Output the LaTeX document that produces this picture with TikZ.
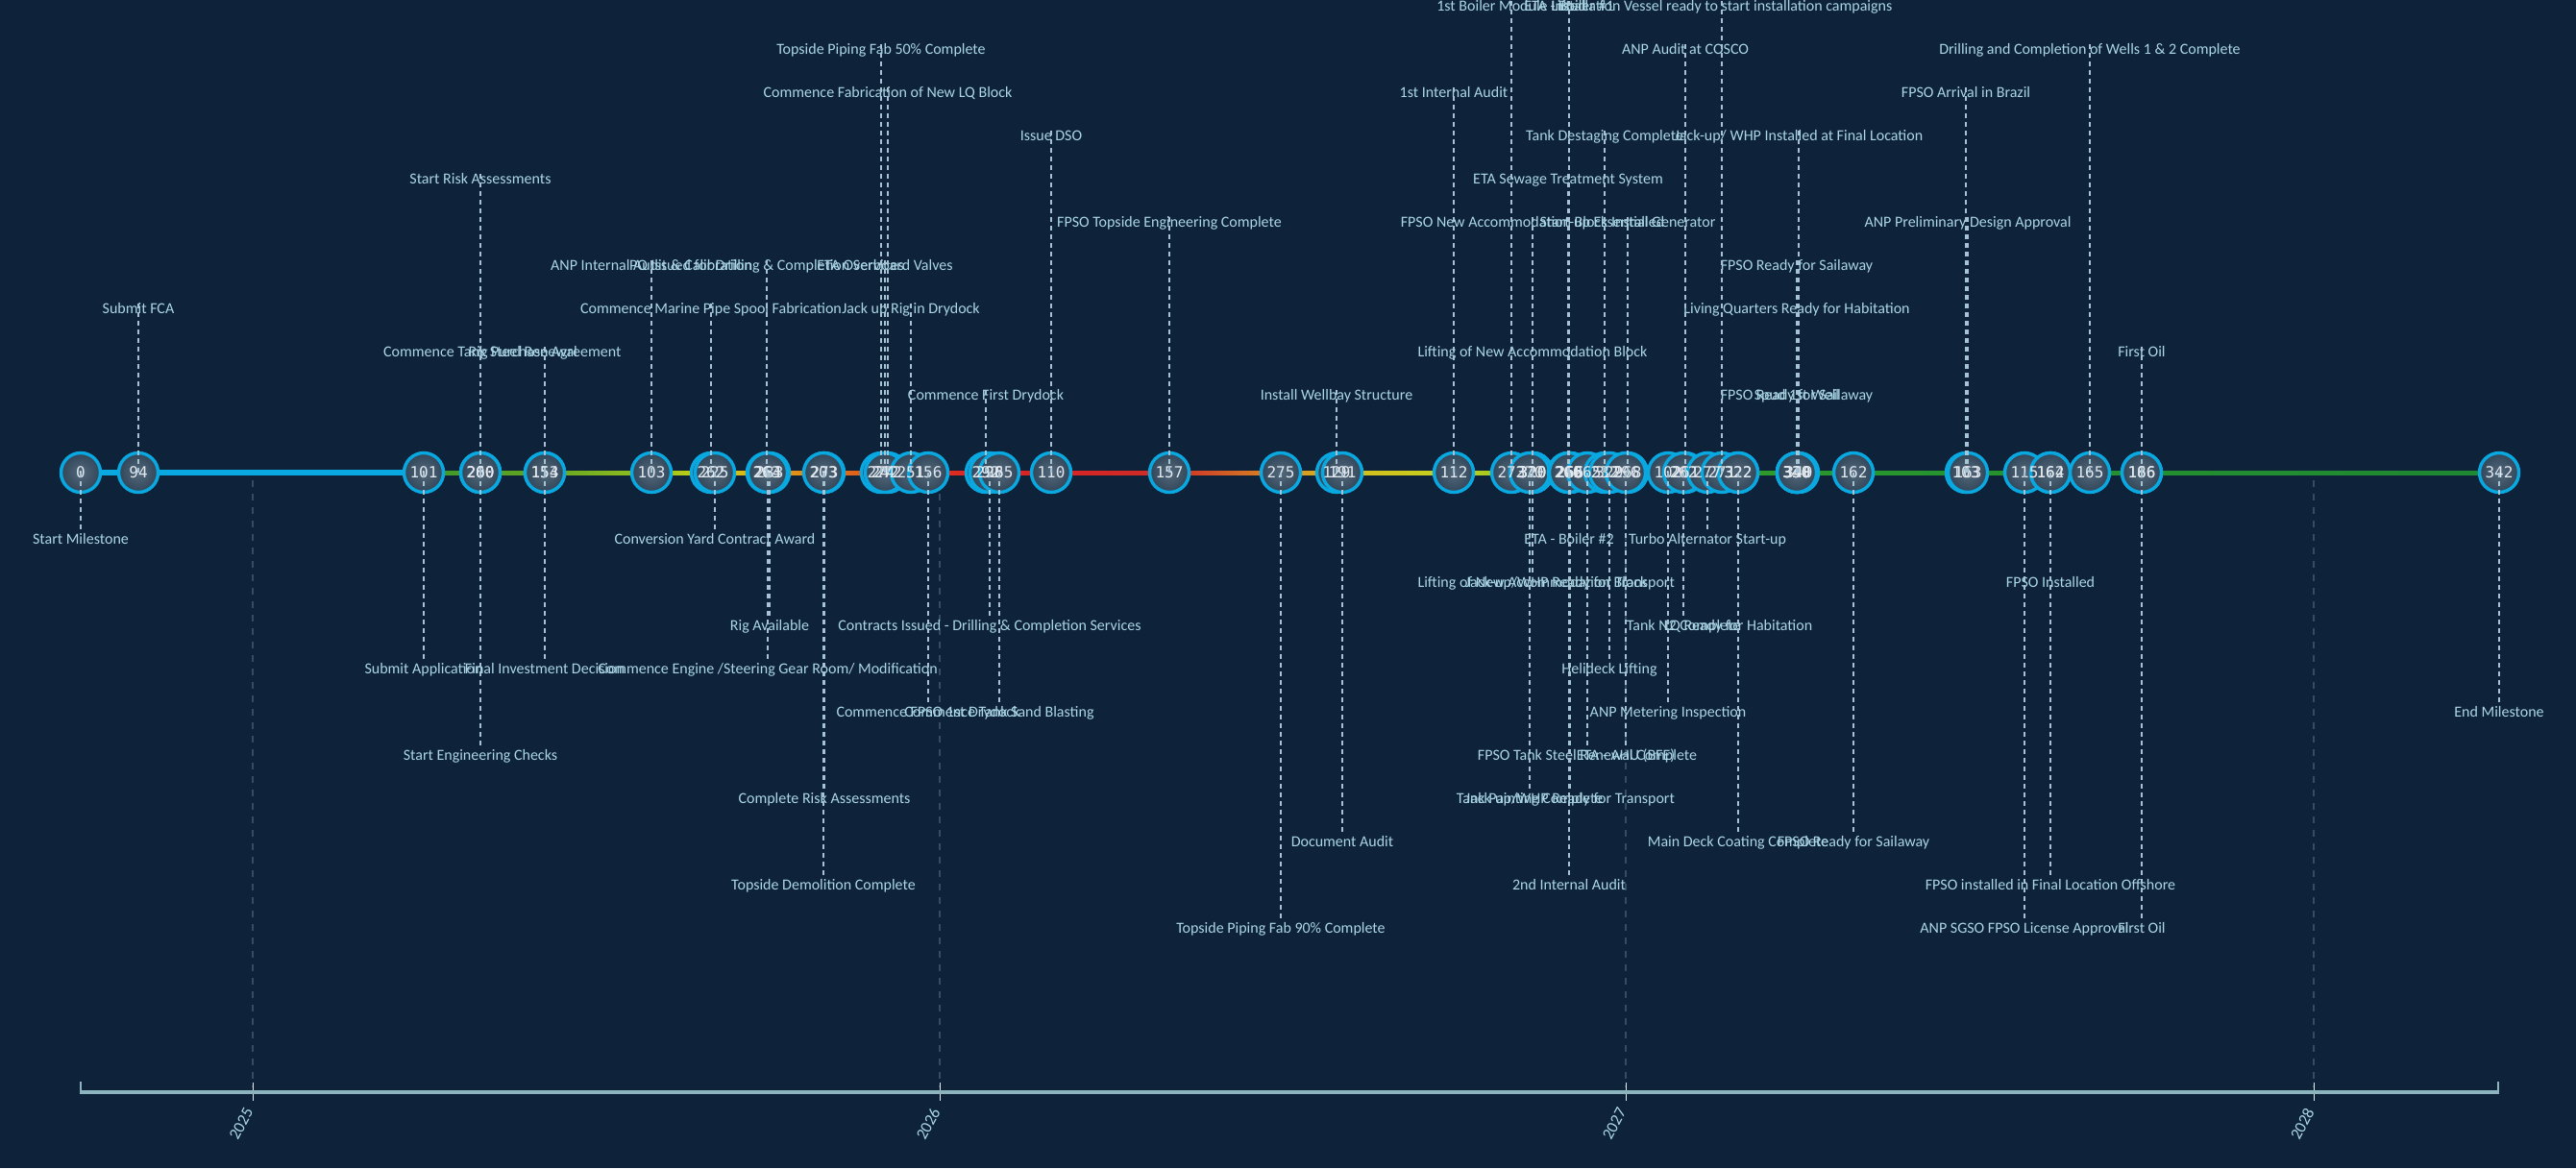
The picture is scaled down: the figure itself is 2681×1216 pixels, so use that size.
\documentclass[tikz,border=0pt]{standalone}
\usepackage{fontspec}
\setmainfont{Carlito}
\newfontfamily\numfont{DejaVu Sans Mono}
\definecolor{bgc}{RGB}{14,34,58}
\definecolor{lblc}{RGB}{170,214,228}
\definecolor{connc}{RGB}{165,195,210}
\definecolor{gridc}{RGB}{52,76,100}
\definecolor{axisc}{RGB}{140,180,190}
\definecolor{ringc}{RGB}{10,168,224}
\definecolor{nodein}{RGB}{84,104,124}
\definecolor{nodeout}{RGB}{50,70,90}
\definecolor{numc}{RGB}{225,232,238}
\definecolor{s1}{RGB}{60,150,40}
\definecolor{s2}{RGB}{100,165,35}
\definecolor{s3}{RGB}{150,190,30}
\definecolor{s4}{RGB}{205,210,20}
\definecolor{s5}{RGB}{225,165,20}
\definecolor{s6}{RGB}{225,120,25}
\definecolor{s7}{RGB}{220,70,30}
\definecolor{s8}{RGB}{220,40,35}
\definecolor{s9}{RGB}{215,35,35}
\definecolor{s10}{RGB}{205,45,40}
\definecolor{s11}{RGB}{215,140,35}
\definecolor{s12}{RGB}{215,185,30}
\definecolor{s13}{RGB}{195,210,30}
\definecolor{s14}{RGB}{130,185,35}
\definecolor{s15}{RGB}{60,160,40}
\definecolor{s16}{RGB}{40,150,45}
\definecolor{s17}{RGB}{30,135,50}
\pgfdeclarelayer{bglayer}
\pgfdeclarelayer{canvaslayer}
\pgfsetlayers{canvaslayer,bglayer,main}
\def\evlist{%
84/0/-1/{Start Milestone},
144/94/3/{Submit FCA},
441/101/-4/{Submit Application},
500/260/6/{Start Risk Assessments},
500/200/-6/{Start Engineering Checks},
500/260/2/{Commence Tank Steel Renewal},
567/154/2/{Rig Purchase Agreement},
567/153/-4/{Final Investment Decision},
678/103/4/{ANP Internal Audit \& Calibration},
740/262/3/{Commence Marine Pipe Spool Fabrication},
744/225/-1/{Conversion Yard Contract Award},
798/263/4/{PO Issued for Drilling \& Completion Services},
801/283/-3/{Rig Available},
799/264/-4/{Commence Engine /Steering Gear Room/ Modification},
858/273/-7/{Complete Risk Assessments},
857/203/-9/{Topside Demolition Complete},
917/274/9/{Topside Piping Fab 50\% Complete},
924/272/8/{Commence Fabrication of New LQ Block},
921/242/4/{ETA Overboard Valves},
948/251/3/{Jack up Rig in Drydock},
966/156/-5/{Commence FPSO 1st Drydock},
1026/292/1/{Commence First Drydock},
1030/298/-3/{Contracts Issued - Drilling \& Completion Services},
1040/265/-5/{Commence Tank Sand Blasting},
1094/110/7/{Issue DSO},
1217/157/5/{FPSO Topside Engineering Complete},
1333/275/-10/{Topside Piping Fab 90\% Complete},
1391/129/1/{Install Wellbay Structure},
1397/191/-8/{Document Audit},
1513/112/8/{1st Internal Audit},
1573/273/10/{1st Boiler Module Lifted},
1595/320/5/{FPSO New Accommodation Block Installed},
1595/320/2/{Lifting of New Accommodation Block},
1595/320/-2/{Lifting of New Accommodation Block},
1592/270/-7/{Tank Painting Complete},
1633/266/10/{ETA - Boiler \#1},
1632/266/6/{ETA Sewage Treatment System},
1633/265/-1/{ETA - Boiler \#2},
1634/265/-2/{Jack-up/WHP Ready for Transport},
1634/266/-7/{Jack-up/WHP Ready for Transport},
1633/266/-9/{2nd Internal Audit},
1652/265/-6/{FPSO Tank Steel Renewal Complete},
1670/232/7/{Tank Destaging Complete},
1675/329/-4/{Helideck Lifting},
1694/268/5/{Start-up Essential Generator},
1692/296/-6/{ETA - AHU (BFE)},
1736/102/-5/{ANP Metering Inspection},
1754/261/9/{ANP Audit at COSCO},
1752/262/-3/{Tank N2 Complete},
1777/277/-1/{Turbo Alternator Start-up},
1792/271/10/{Installation Vessel ready to start installation campaigns},
1809/322/-3/{LQ Ready for Habitation},
1809/322/-8/{Main Deck Coating Complete},
1872/340/7/{Jack-up/ WHP Installed at Final Location},
1870/330/4/{FPSO Ready for Sailaway},
1870/340/3/{Living Quarters Ready for Habitation},
1870/330/1/{FPSO Ready for Sailaway},
1870/340/1/{Spud 1st Well},
1929/162/-8/{FPSO Ready for Sailaway},
2046/103/8/{FPSO Arrival in Brazil},
2048/163/5/{ANP Preliminary Design Approval},
2107/115/-10/{ANP SGSO FPSO License Approval},
2134/164/-9/{FPSO installed in Final Location Offshore},
2134/162/-2/{FPSO Installed},
2175/165/9/{Drilling and Completion of Wells 1 \& 2 Complete},
2229/166/2/{First Oil},
2229/186/-10/{First Oil},
2601/342/-5/{End Milestone}%
}
\begin{document}
\begin{tikzpicture}[x=1pt,y=-1pt,
  mnode/.style={circle, minimum size=41pt, inner sep=0pt, draw=ringc, line width=3.4pt,
    inner color=nodein, outer color=nodeout},
  numlbl/.style={text=numc, inner sep=0pt, font=\numfont\fontsize{16}{16}\selectfont},
  lbl/.style={text=lblc, font=\fontsize{16}{19}\selectfont, inner sep=0pt,
    text height=11pt, text depth=3pt, anchor=center},
  conn/.style={draw=connc, line width=1.6pt, dash pattern=on 5pt off 4pt},
  gridline/.style={draw=gridc, line width=1.4pt, dash pattern=on 7pt off 7pt},
  yearlbl/.style={text=lblc, font=\fontsize{17}{19}\selectfont, rotate=62, inner sep=0pt}]
\useasboundingbox (0,0) rectangle (2681,1216);
\begin{pgfonlayer}{canvaslayer}
\fill[bgc] (0,0) rectangle (2681,1216);
\end{pgfonlayer}
% circles
\foreach \ex/\en/\er/\et [count=\i] in \evlist {
  \node[mnode] (c\i) at (\ex,492) {};
}
% numbers on top of all circles
\foreach \ex/\en/\er/\et [count=\i] in \evlist {
  \node[numlbl] (n\i) at (c\i.center) {\en};
}
% background layer: grid, axis and main line
\begin{pgfonlayer}{bglayer}
\foreach \gx/\yr in {263/2025, 978/2026, 1692/2027, 2408/2028} {
  \draw[gridline] (\gx,500) -- (\gx,1132);
  \draw[draw=white!75!axisc, line width=1pt] (\gx,1127) -- (\gx,1146);
  \node[yearlbl] (y\yr) at (\gx-12,1170) {\yr};
}
\draw[draw=axisc, line width=4pt] (84,1137) -- (2600,1137);
\draw[draw=axisc, line width=1.5pt] (84,1126) -- (84,1139);
\draw[draw=axisc, line width=1.5pt] (2600,1126) -- (2600,1139);
\shade[left color=s1,right color=s2] (441,490) rectangle (567,494.5);
\shade[left color=s2,right color=s3] (567,490) rectangle (678,494.5);
\shade[left color=s3,right color=s4] (678,490) rectangle (740,494.5);
\shade[left color=s4,right color=s5] (740,490) rectangle (800,494.5);
\shade[left color=s5,right color=s6] (800,490) rectangle (858,494.5);
\shade[left color=s6,right color=s7] (858,490) rectangle (930,494.5);
\shade[left color=s7,right color=s8] (930,490) rectangle (1000,494.5);
\shade[left color=s8,right color=s9] (1000,490) rectangle (1094,494.5);
\shade[left color=s9,right color=s10] (1094,490) rectangle (1217,494.5);
\shade[left color=s10,right color=s11] (1217,490) rectangle (1333,494.5);
\shade[left color=s11,right color=s12] (1333,490) rectangle (1395,494.5);
\shade[left color=s12,right color=s13] (1395,490) rectangle (1513,494.5);
\shade[left color=s13,right color=s14] (1513,490) rectangle (1600,494.5);
\shade[left color=s14,right color=s15] (1600,490) rectangle (1700,494.5);
\shade[left color=s15,right color=s16] (1700,490) rectangle (1900,494.5);
\shade[left color=s16,right color=s17] (1900,490) rectangle (2601,494.5);
\draw[draw=ringc, line width=6pt] (c1.center) -- (c3.center);
\end{pgfonlayer}
% labels
\foreach \ex/\en/\er/\et [count=\i] in \evlist {
  \ifnum\er>0
    \pgfmathsetmacro\ry{412-45*(\er-1)}
  \else
    \pgfmathsetmacro\ry{562+45*(0-(\er)-1)}
  \fi
  \node[lbl] (l\i) at (\ex,\ry) {\et};
}
% connectors
\foreach \ex/\en/\er/\et [count=\i] in \evlist {
  \draw[conn] (c\i.center) -- (l\i.north);
}
\end{tikzpicture}
\end{document}
